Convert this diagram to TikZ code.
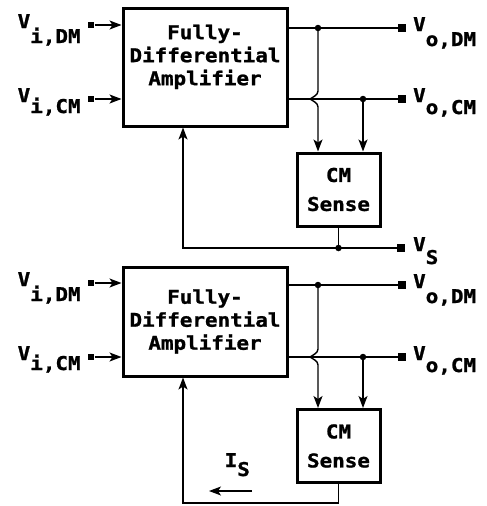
\documentclass[tikz,border=0pt]{standalone}
\usepackage{fontspec}
\setmainfont{DejaVu Sans Mono}[FakeStretch=1.1, BoldFeatures={FakeBold=1.2}]
\usetikzlibrary{arrows.meta,positioning,calc}
% signal name with a lowered (same size) subscript
\newcommand{\sig}[3][15pt]{#2\raisebox{-#1}{#3}}

\begin{document}
\begin{tikzpicture}[x=1pt, y=-1pt, >={Stealth[length=12pt,width=9pt,inset=3pt]},
  line width=1.4pt, font=\fontsize{19}{23}\selectfont\bfseries,
  box/.style={draw, line width=3pt, align=center, inner sep=0pt},
  amp/.style={box, minimum width=164pt},
  sense/.style={box, minimum width=83pt, minimum height=73pt},
  term/.style={fill, inner sep=0pt, minimum size=6pt},
  outterm/.style={term, minimum size=7.5pt},
  tap/.style={circle, fill, inner sep=0pt, minimum size=6.5pt},
  lbl/.style={inner sep=0pt}]

\useasboundingbox (0,0) rectangle (487,506);

% ---- upper circuit: CM sense output is a voltage V_S
\node[amp, minimum height=118pt] (amp1) at (205,67) {};
\node[lbl, align=center, anchor=north] (amp1txt) at (205,24) {Fully-\\Differential\\Amplifier};
\node[sense] (cm1) at (338.5,189.5) {CM\\[6pt]Sense};

\node[term] (vidm1) at (91,25) {};
\node[term] (vicm1) at (91,99) {};
\node[lbl, anchor=base east] (lvidm1) at ([xshift=-6pt,yshift=-3pt]vidm1.west) {\sig{V}{i,DM}};
\node[lbl, anchor=base east] (lvicm1) at ([xshift=-6pt,yshift=-3pt]vicm1.west) {\sig[11pt]{V}{i,CM}};
\draw[->] (vidm1) -- (vidm1 -| amp1.west);
\draw[->] (vicm1) -- (vicm1 -| amp1.west);

\node[outterm] (vodm1) at (402,28) {};
\node[outterm] (vocm1) at (402,99) {};
\node[lbl, anchor=base west] (lvodm1) at ([xshift=6pt,yshift=-3pt]vodm1.east) {\sig{V}{o,DM}};
\node[lbl, anchor=base west] (lvocm1) at ([xshift=6pt,yshift=-3pt]vocm1.east) {\sig[12pt]{V}{o,CM}};
\node[tap] (dm1) at (318,28) {};
\node[tap] (cmt1) at (363,99) {};
\draw (vodm1 -| amp1.east) -- (vodm1);
\draw (vocm1 -| amp1.east) -- (vocm1);

% taps down into the sense block, the first one hops over the CM line
\draw[->] (dm1.center) -- ++(0,63) .. controls +(0,4) and +(3,-2) .. ++(-8,8)
          .. controls +(3,2) and +(0,-4) .. ++(8,8) -- (dm1 |- cm1.north);
\draw[->] (cmt1.center) -- (cmt1 |- cm1.north);

\node[tap] (vst) at (338.5,248) {};
\node[outterm] (vs) at (401,248) {};
\node[lbl, anchor=base west] (lvs) at ([xshift=7pt,yshift=-3pt]vs.east) {\sig[13pt]{V}{S}};
\coordinate (fb1) at (183,248);
\draw (cm1.south) -- (vst.center) -- (vs);
\draw[->] (vst.center) -- (fb1) -- (fb1 |- amp1.south);

% ---- lower circuit: CM sense output is a current I_S
\node[amp, minimum height=109pt] (amp2) at (205,321.5) {Fully-\\Differential\\Amplifier};
\node[sense] (cm2) at (338.5,446) {CM\\[6pt]Sense};

\node[term] (vidm2) at (91,283) {};
\node[term] (vicm2) at (91,357) {};
\node[lbl, anchor=base east] (lvidm2) at ([xshift=-6pt,yshift=-3pt]vidm2.west) {\sig{V}{i,DM}};
\node[lbl, anchor=base east] (lvicm2) at ([xshift=-6pt,yshift=-3pt]vicm2.west) {\sig[10pt]{V}{i,CM}};
\draw[->] (vidm2) -- (vidm2 -| amp2.west);
\draw[->] (vicm2) -- (vicm2 -| amp2.west);

\node[outterm] (vodm2) at (402,285) {};
\node[outterm] (vocm2) at (402,357) {};
\node[lbl, anchor=base west] (lvodm2) at ([xshift=6pt,yshift=-3pt]vodm2.east) {\sig{V}{o,DM}};
\node[lbl, anchor=base west] (lvocm2) at ([xshift=6pt,yshift=-3pt]vocm2.east) {\sig[12pt]{V}{o,CM}};
\node[tap] (dm2) at (318,285) {};
\node[tap] (cmt2) at (363,357) {};
\draw (vodm2 -| amp2.east) -- (vodm2);
\draw (vocm2 -| amp2.east) -- (vocm2);

\draw[->] (dm2.center) -- ++(0,64) .. controls +(0,4) and +(3,-2) .. ++(-8,8)
          .. controls +(3,2) and +(0,-4) .. ++(8,8) -- (dm2 |- cm2.north);
\draw[->] (cmt2.center) -- (cmt2 |- cm2.north);

\coordinate (fb2a) at (338.5,503);
\coordinate (fb2b) at (183,503);
\draw[->] (cm2.south) -- (fb2a) -- (fb2b) -- (fb2b |- amp2.south);

% direction of the sense current
\coordinate (is0) at (252,491);
\coordinate (is1) at (209,491);
\draw[->, line width=1.1pt] (is0) -- (is1);
\node[lbl, anchor=base west] (lis) at (224,467) {\sig[9pt]{I}{S}};
\end{tikzpicture}
\end{document}
